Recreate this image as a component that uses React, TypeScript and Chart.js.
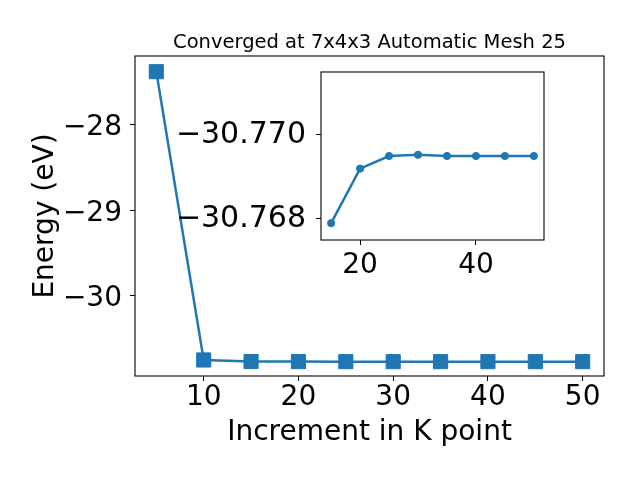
import React, { useEffect, useRef } from "react";
import { Chart, registerables } from "chart.js";

Chart.register(...registerables);

// ---- data ----
const kPoints = [5, 10, 15, 20, 25, 30, 35, 40, 45, 50];
const energies = [-27.386, -30.75, -30.7679, -30.7692, -30.7695, -30.76953, -30.7695, -30.7695, -30.7695, -30.7695];
const insetStartIndex = 2; // inset shows k = 15..50
const mainXTicks = [10, 20, 30, 40, 50];
const mainYTicks = [-30, -29, -28];
const insetXTicks = [20, 40];
const insetYTicks = [-30.77, -30.768];
const titleText = "Converged at 7x4x3 Automatic Mesh 25";
const xLabel = "Increment in K point";
const yLabel = "Energy (eV)";

const BLUE = "#1f77b4";
const FONT = "'DejaVu Sans', 'Liberation Sans', sans-serif";

const fmt = (v: number, d: number) => (v < 0 ? "\u2212" : "") + Math.abs(v).toFixed(d);

const makeFramePlugin = (whiteBg: boolean, title?: string) => ({
  id: "frameAndTitle",
  beforeDraw(chart: any) {
    if (!whiteBg) return;
    const { ctx, chartArea: a } = chart;
    ctx.save();
    ctx.fillStyle = "#ffffff";
    ctx.fillRect(a.left, a.top, a.right - a.left, a.bottom - a.top);
    ctx.restore();
  },
  afterDraw(chart: any) {
    const { ctx, chartArea: a } = chart;
    ctx.save();
    ctx.strokeStyle = "#000000";
    ctx.lineWidth = 1.1;
    ctx.strokeRect(a.left, a.top, a.right - a.left, a.bottom - a.top);
    if (title) {
      ctx.fillStyle = "#000000";
      ctx.font = `19.5px ${FONT}`;
      ctx.textAlign = "center";
      ctx.textBaseline = "middle";
      ctx.fillText(title, (a.left + a.right) / 2, 42.5);
    }
    ctx.restore();
  },
});

const tickGrid = {
  display: true,
  drawOnChartArea: false,
  drawTicks: true,
  tickLength: 5,
  color: "#000000",
  tickColor: "#000000",
  lineWidth: 1,
};

const fixH = (h: number) => (s: any) => {
  s.height = h;
  s.paddingLeft = 0;
  s.paddingRight = 0;
  s.paddingTop = 0;
  s.paddingBottom = 0;
};
const fixW = (w: number) => (s: any) => {
  s.width = w;
  s.paddingLeft = 0;
  s.paddingRight = 0;
  s.paddingTop = 0;
  s.paddingBottom = 0;
};

export default function App() {
  const mainRef = useRef<HTMLCanvasElement | null>(null);
  const insetRef = useRef<HTMLCanvasElement | null>(null);

  useEffect(() => {
    if (!mainRef.current || !insetRef.current) return;

    const mainData = kPoints.map((k, i) => ({ x: k, y: energies[i] }));
    const insetData = kPoints.slice(insetStartIndex).map((k, i) => ({ x: k, y: energies[i + insetStartIndex] }));

    const main = new Chart(mainRef.current, {
      type: "line",
      data: {
        datasets: [
          {
            data: mainData,
            borderColor: BLUE,
            backgroundColor: BLUE,
            borderWidth: 2.5,
            pointStyle: "rect",
            pointRadius: 10,
            pointBackgroundColor: BLUE,
            pointBorderColor: BLUE,
            pointBorderWidth: 1,
            tension: 0,
            fill: false,
          },
        ],
      },
      options: {
        animation: false,
        responsive: false,
        devicePixelRatio: 1,
        layout: { padding: { left: 0, right: 36, top: 56, bottom: 0 } },
        plugins: { legend: { display: false }, tooltip: { enabled: false }, title: { display: false } },
        scales: {
          x: {
            type: "linear",
            min: 2.75,
            max: 52.25,
            afterBuildTicks: (s: any) => {
              s.ticks = mainXTicks.map((v) => ({ value: v }));
            },
            afterFit: fixH(104),
            grid: tickGrid,
            border: { display: false },
            ticks: {
              color: "#000",
              padding: 0,
              font: { family: FONT, size: 28 },
              callback: (v: any) => fmt(Number(v), 0),
              maxRotation: 0,
              autoSkip: false,
            },
            title: {
              display: true,
              text: xLabel,
              color: "#000",
              font: { family: FONT, size: 28 },
              padding: { top: 0, bottom: 30 },
            },
          },
          y: {
            type: "linear",
            min: -30.937,
            max: -27.203,
            afterBuildTicks: (s: any) => {
              s.ticks = mainYTicks.map((v) => ({ value: v }));
            },
            afterFit: fixW(135),
            grid: tickGrid,
            border: { display: false },
            ticks: {
              color: "#000",
              padding: 8,
              labelOffset: 3.5,
              font: { family: FONT, size: 28 },
              callback: (v: any) => fmt(Number(v), 0),
              autoSkip: false,
            },
            title: {
              display: true,
              text: yLabel,
              color: "#000",
              font: { family: FONT, size: 28 },
              padding: { top: 29, bottom: 0 },
            },
          },
        },
      },
      plugins: [makeFramePlugin(false, titleText)],
    } as any);

    const inset = new Chart(insetRef.current, {
      type: "line",
      data: {
        datasets: [
          {
            data: insetData,
            borderColor: BLUE,
            backgroundColor: BLUE,
            borderWidth: 2.5,
            pointStyle: "circle",
            pointRadius: 3.6,
            pointBackgroundColor: BLUE,
            pointBorderColor: BLUE,
            pointBorderWidth: 1,
            tension: 0,
            fill: false,
          },
        ],
      },
      options: {
        animation: false,
        responsive: false,
        devicePixelRatio: 1,
        layout: { padding: { left: 0, right: 26, top: 12, bottom: 0 } },
        plugins: { legend: { display: false }, tooltip: { enabled: false }, title: { display: false } },
        scales: {
          x: {
            type: "linear",
            min: 13.25,
            max: 51.75,
            afterBuildTicks: (s: any) => {
              s.ticks = insetXTicks.map((v) => ({ value: v }));
            },
            afterFit: fixH(50),
            grid: tickGrid,
            border: { display: false },
            ticks: {
              color: "#000",
              padding: 4,
              font: { family: FONT, size: 28 },
              callback: (v: any) => fmt(Number(v), 0),
              maxRotation: 0,
              autoSkip: false,
            },
          },
          y: {
            type: "linear",
            reverse: true,
            min: -30.7715,
            max: -30.7675,
            afterBuildTicks: (s: any) => {
              s.ticks = insetYTicks.map((v) => ({ value: v }));
            },
            afterFit: fixW(151),
            grid: tickGrid,
            border: { display: false },
            ticks: {
              color: "#000",
              padding: 10,
              font: { family: FONT, size: 30 },
              callback: (v: any) => fmt(Number(v), 3),
              autoSkip: false,
            },
          },
        },
      },
      plugins: [makeFramePlugin(true)],
    } as any);

    return () => {
      main.destroy();
      inset.destroy();
    };
  }, []);

  return (
    <div style={{ position: "fixed", left: 0, top: 0, width: 640, height: 480, background: "#ffffff" }}>
      <canvas ref={mainRef} width={640} height={480} style={{ position: "absolute", left: 0, top: 0, width: 640, height: 480 }} />
      <canvas ref={insetRef} width={400} height={230} style={{ position: "absolute", left: 170, top: 60, width: 400, height: 230 }} />
    </div>
  );
}
